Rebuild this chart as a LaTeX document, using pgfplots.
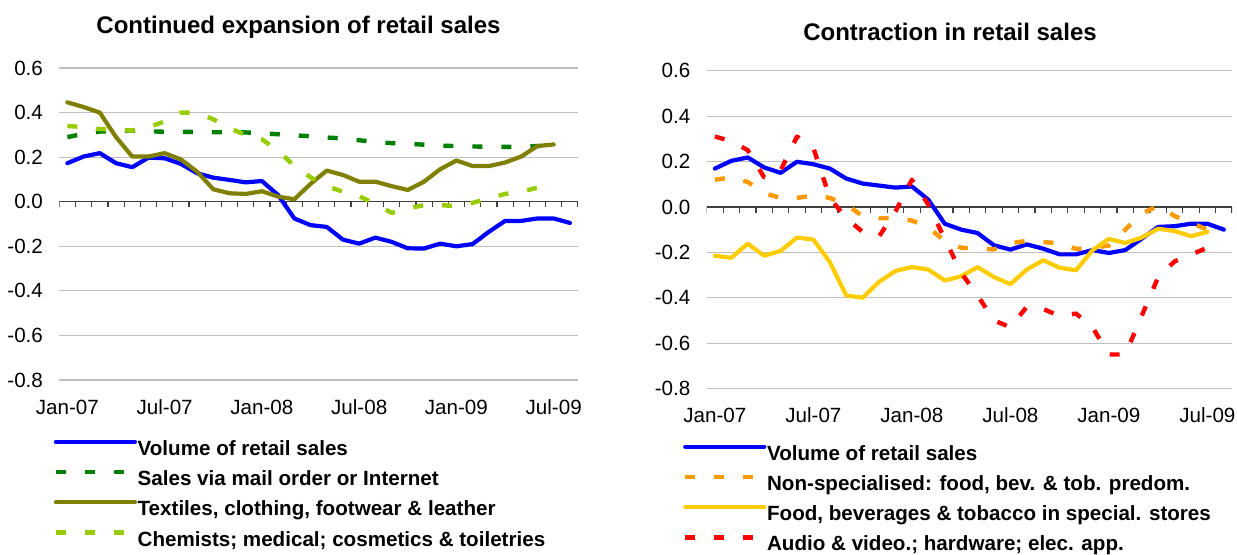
\documentclass[border=0pt]{standalone}
\usepackage{fontspec}
\setmainfont{Liberation Sans}
\usepackage{pgfplots}
\usepackage{pgfplotstable}
\pgfplotsset{compat=1.18}

\definecolor{cBlue}{RGB}{0,0,255}
\definecolor{cDkGreen}{RGB}{0,128,0}
\definecolor{cOlive}{RGB}{128,128,0}
\definecolor{cLtGreen}{RGB}{153,204,0}
\definecolor{cOrange}{RGB}{255,153,0}
\definecolor{cYellow}{RGB}{255,204,0}
\definecolor{cRed}{RGB}{255,0,0}

% month index, values (annual growth rates)
\pgfplotstableread{
i  vol    mail   text   chem
0  0.173  0.290  0.446  0.340
1  0.203  0.305  0.425  0.335
2  0.218  0.315  0.400  0.326
3  0.173  0.318  0.290  0.322
4  0.155  0.320  0.203  0.320
5  0.198  0.316  0.203  0.335
6  0.195  0.314  0.218  0.360
7  0.170  0.314  0.190  0.400
8  0.128  0.313  0.135  0.400
9  0.108  0.312  0.056  0.370
10 0.098  0.312  0.038  0.330
11 0.087  0.311  0.035  0.300
12 0.093  0.307  0.047  0.280
13 0.030  0.303  0.023  0.230
14 -0.075 0.298  0.011  0.160
15 -0.105 0.294  0.080  0.110
16 -0.113 0.288  0.140  0.070
17 -0.170 0.284  0.120  0.045
18 -0.188 0.276  0.090  0.025
19 -0.161 0.268  0.090  -0.010
20 -0.180 0.263  0.070  -0.050
21 -0.209 0.260  0.053  -0.030
22 -0.210 0.256  0.090  -0.015
23 -0.188 0.251  0.146  -0.015
24 -0.200 0.250  0.185  -0.020
25 -0.190 0.248  0.160  -0.005
26 -0.135 0.247  0.160  0.015
27 -0.086 0.246  0.176  0.035
28 -0.086 0.247  0.203  0.045
29 -0.075 0.250  0.250  0.063
30 -0.075 0.250  0.257  0.060
31 -0.095 nan    nan    nan
}\leftdata

\pgfplotstableread{
i  vol    nonspec food   audio
0  0.169  0.120  -0.215  0.310
1  0.203  0.130  -0.224  0.290
2  0.218  0.110  -0.162  0.250
3  0.174  0.060  -0.215  0.130
4  0.150  0.040  -0.194  0.160
5  0.199  0.040  -0.135  0.310
6  0.188  0.050  -0.144  0.260
7  0.169  0.040  -0.243  0.040
8  0.125  0.010  -0.390  -0.050
9  0.103  -0.040 -0.400  -0.110
10 0.094  -0.050 -0.330  -0.130
11 0.085  -0.050 -0.282  -0.020
12 0.090  -0.060 -0.265  0.120
13 0.032  -0.090 -0.276  0.010
14 -0.074 -0.150 -0.324  -0.140
15 -0.100 -0.180 -0.306  -0.290
16 -0.115 -0.185 -0.265  -0.390
17 -0.169 -0.187 -0.309  -0.500
18 -0.188 -0.160 -0.340  -0.530
19 -0.165 -0.150 -0.276  -0.440
20 -0.184 -0.155 -0.235  -0.450
21 -0.209 -0.160 -0.268  -0.480
22 -0.209 -0.185 -0.279  -0.470
23 -0.190 -0.180 -0.191  -0.530
24 -0.203 -0.170 -0.141  -0.650
25 -0.190 -0.100 -0.159  -0.650
26 -0.140 -0.030 -0.135  -0.480
27 -0.088 0.005  -0.096  -0.310
28 -0.085 -0.040 -0.106  -0.240
29 -0.074 -0.070 -0.129  -0.210
30 -0.074 -0.100 -0.110  -0.180
31 -0.100 nan    nan     nan
}\rightdata

\pgfplotsset{
  panel/.style={
    scale only axis,
    xmin=0, xmax=32, ymin=-0.8, ymax=0.6,
    ytick={-0.8,-0.6,-0.4,-0.2,0,0.2,0.4,0.6},
    xtick={0.5,6.5,12.5,18.5,24.5,30.5},
    xticklabels={Jan-07,Jul-07,Jan-08,Jul-08,Jan-09,Jul-09},
    axis line style={draw=none},
    major tick length=0pt,
    ymajorgrids,
    grid style={black!25, line width=0.6pt},
    tick label style={font=\fontsize{10.3}{12}\selectfont},
    /pgf/number format/assume math mode=true,
    yticklabel style={/pgf/number format/fixed,
                      /pgf/number format/fixed zerofill,
                      /pgf/number format/precision=1,
                      anchor=east, inner sep=0pt, xshift=-8pt},
    xticklabel style={anchor=base, inner sep=0pt, yshift=-17pt},
    unbounded coords=jump,
    legend cell align=left,
    legend image code/.code={\draw[##1] (0pt,4.5pt) -- (39.5pt,4.5pt);},
    legend style={draw=none, fill=none, inner sep=0pt, row sep=4.3pt,
                  column sep=0.3pt,
                  font=\fontsize{10.3}{12}\selectfont\bfseries,
                  nodes={inner sep=0pt, text height=7.5pt, text depth=3pt}},
  },
  solidline/.style={line width=2.1pt, line join=round, line cap=round},
  dashline/.style={line width=2.2pt, line join=round, line cap=butt,
                   dash pattern=on 5pt off 9.5pt},
}

\newcommand{\zeroaxis}{%
  \draw[black!75, line width=0.6pt] (axis cs:0,0) -- (axis cs:32,0);
  \pgfplotsinvokeforeach{0,...,32}{\draw[black!75, line width=0.6pt] (axis cs:##1,0) -- ++(0pt,-2.8pt);}%
}

\begin{document}
\begin{tikzpicture}
\path[use as bounding box] (0,0) rectangle (618.5pt,-277pt);

\node[anchor=base, font=\fontsize{12}{14}\selectfont\bfseries]
  at (149.25pt,-16.65pt) {Continued expansion of retail sales};
\node[anchor=base, font=\fontsize{12}{14}\selectfont\bfseries]
  at (475pt,-20pt) {Contraction in retail sales};

% ---- left panel ---------------------------------------------------------
\begin{axis}[
  panel,
  at={(29.65pt,-190pt)}, anchor=south west,
  width=259.35pt, height=156pt,
  legend style={at={(-0.0116,-0.190)}, anchor=north west},
]
\zeroaxis
\addplot[solidline, cBlue] table[x expr=\thisrow{i}+0.5, y=vol] {\leftdata};
\addlegendentry{Volume of retail sales}
\addplot[dashline, cDkGreen] table[x expr=\thisrow{i}+0.5, y=mail] {\leftdata};
\addlegendentry{Sales via mail order or Internet}
\addplot[solidline, cOlive] table[x expr=\thisrow{i}+0.5, y=text] {\leftdata};
\addlegendentry{Textiles, clothing, footwear \& leather}
\addplot[dashline, cLtGreen] table[x expr=\thisrow{i}+0.5, y=chem] {\leftdata};
\addlegendentry{Chemists; medical; cosmetics \& toiletries}
\end{axis}

% ---- right panel --------------------------------------------------------
\begin{axis}[
  panel,
  at={(353.35pt,-194.25pt)}, anchor=south west,
  width=262.65pt, height=158.9pt,
  legend style={at={(-0.0457,-0.175)}, anchor=north west},
]
\zeroaxis
\addplot[solidline, cBlue] table[x expr=\thisrow{i}+0.5, y=vol] {\rightdata};
\addlegendentry{Volume of retail sales}
\addplot[dashline, cOrange] table[x expr=\thisrow{i}+0.5, y=nonspec] {\rightdata};
\addlegendentry{Non-specialised: food, bev. \& tob. predom.}
\addplot[solidline, cYellow] table[x expr=\thisrow{i}+0.5, y=food] {\rightdata};
\addlegendentry{Food, beverages \& tobacco in special. stores}
\addplot[dashline, cRed] table[x expr=\thisrow{i}+0.5, y=audio] {\rightdata};
\addlegendentry{Audio \& video.; hardware; elec. app.}
\end{axis}
\end{tikzpicture}
\end{document}
